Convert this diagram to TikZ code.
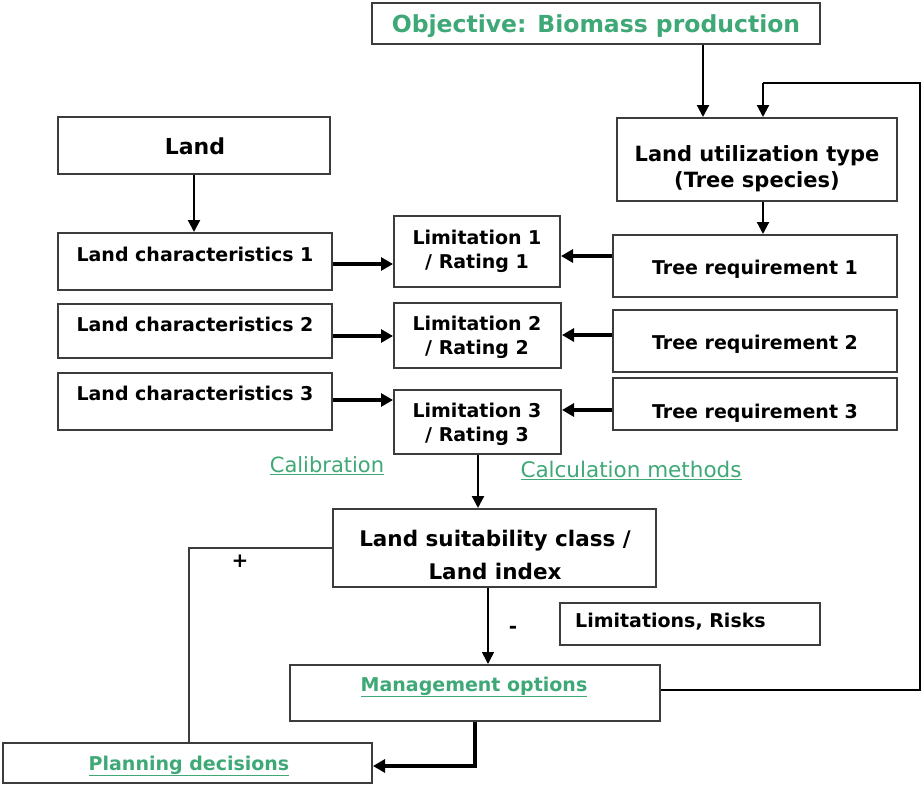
\documentclass[tikz,border=0pt]{standalone}
\usepackage{fontspec}
\setmainfont{DejaVu Sans}
\usetikzlibrary{arrows.meta}
\definecolor{leafgreen}{RGB}{62,168,118}
\definecolor{edgegray}{RGB}{60,60,60}
\begin{document}
\begin{tikzpicture}[x=1pt,y=-1pt,
  box/.style={draw=edgegray,line width=2pt,fill=white,inner sep=0pt},
  lbl/.style={font=\fontsize{19}{24}\selectfont\bfseries,align=center,inner sep=0pt},
  glbl/.style={font=\fontsize{19}{22}\selectfont\bfseries,text=leafgreen,inner sep=0pt},
  link/.style={line width=1.8pt,draw=black},
  thin/.style={line width=1.6pt,draw=edgegray},
  heavy/.style={line width=3.4pt,draw=black,-{Triangle[length=12pt,width=13pt]}},
  plain/.style={line width=2.2pt,draw=black,-{Triangle[length=12pt,width=12pt]}}]
\useasboundingbox (0,0) rectangle (922,785);

% boxes: corners in drawing units
\newcommand{\boxat}[5]{\node[box,minimum width={#4-#2},minimum height={#5-#3}] (#1) at ({(#2+#4)/2},{(#3+#5)/2}) {};}
\boxat{obj}{372}{3}{820}{44}
\boxat{land}{58}{117}{330}{174}
\boxat{lut}{617}{118}{897}{201}
\boxat{lc1}{58}{233}{332}{290}
\boxat{lim1}{394}{216}{560}{287}
\boxat{tr1}{613}{235}{897}{297}
\boxat{lc2}{58}{304}{332}{358}
\boxat{lim2}{394}{303}{561}{368}
\boxat{tr2}{613}{310}{897}{372}
\boxat{lc3}{58}{373}{332}{430}
\boxat{lim3}{394}{390}{561}{454}
\boxat{tr3}{613}{378}{897}{430}
\boxat{lsc}{333}{509}{656}{587}
\boxat{risk}{560}{603}{820}{645}
\boxat{mgmt}{290}{665}{660}{721}
\boxat{plan}{3}{743}{372}{783}

% texts
\node[glbl,font=\fontsize{23.5}{26}\selectfont\bfseries] (tobj) at (596,26) {Objective: Biomass production};
\node[lbl,font=\fontsize{22}{26}\selectfont\bfseries] (tland) at (195,146) {Land};
\node[lbl,font=\fontsize{21}{26}\selectfont\bfseries] (tlut) at (757,169) {Land utilization type\\(Tree species)};
\node[lbl] (tlc1) at (195,254) {Land characteristics 1};
\node[lbl] (tlc2) at (195,324) {Land characteristics 2};
\node[lbl] (tlc3) at (195,393) {Land characteristics 3};
\node[lbl] (tlim1) at (477,251) {Limitation 1\\/ Rating 1};
\node[lbl] (tlim2) at (477,337) {Limitation 2\\/ Rating 2};
\node[lbl] (tlim3) at (477,424) {Limitation 3\\/ Rating 3};
\node[lbl] (ttr1) at (755,269) {Tree requirement 1};
\node[lbl] (ttr2) at (755,344) {Tree requirement 2};
\node[lbl] (ttr3) at (755,413) {Tree requirement 3};
\node[lbl,font=\fontsize{21.5}{33}\selectfont\bfseries] (tlsc) at (495,555) {Land suitability class /\\Land index};
\node[lbl,anchor=west] (trisk) at (575,622) {Limitations, Risks};
\node[glbl] (tmgmt) at (474,687) {\underline{Management options}};
\node[glbl] (tplan) at (189,766) {\underline{Planning decisions}};
\node[text=leafgreen,font=\fontsize{21}{24}\selectfont,inner sep=0pt] (tcal) at (327,466) {\underline{Calibration}};
\node[text=leafgreen,font=\fontsize{21.5}{24}\selectfont,inner sep=0pt] (tcalc) at (631,470) {\underline{Calculation methods}};
\node[lbl,font=\fontsize{20}{22}\selectfont\bfseries] (tplus) at (240,561) {+};
\node[lbl,font=\fontsize{20}{22}\selectfont\bfseries] (tminus) at (513,630) {-};

% connectors
\draw[plain] (obj.south -| 703,0) -- (lut.north -| 703,0);
\coordinate (fbA) at (920,690);
\coordinate (fbB) at (920,83);
\coordinate (fbC) at (763,83);
\draw[link] (mgmt.east |- fbA) -- (fbA) -- (fbB) -- (fbC);
\draw[plain] (fbC) -- (lut.north -| fbC);
\draw[plain] (land.south) -- (lc1.north -| land.south);
\draw[plain] (lut.south -| 763,0) -- (tr1.north -| 763,0);

\draw[heavy] (lc1.east |- 0,264) -- (lim1.west |- 0,264);
\draw[heavy] (tr1.west |- 0,256) -- (lim1.east |- 0,256);
\draw[heavy] (lc2.east |- 0,336) -- (lim2.west |- 0,336);
\draw[heavy] (tr2.west |- 0,335) -- (lim2.east |- 0,335);
\draw[heavy] (lc3.east |- 0,400) -- (lim3.west |- 0,400);
\draw[heavy] (tr3.west |- 0,410) -- (lim3.east |- 0,410);

\draw[plain] (lim3.south -| 478,0) -- (lsc.north -| 478,0);
\draw[plain,line width=1.6pt] (lsc.south -| 488,0) -- (mgmt.north -| 488,0);

\coordinate (pA) at (189,548);
\draw[thin] (lsc.west |- pA) -- (pA) -- (plan.north -| pA);

\coordinate (mA) at (475,766);
\draw[heavy] (mgmt.south -| mA) -- (mA) -- (plan.east |- mA);
\end{tikzpicture}
\end{document}
